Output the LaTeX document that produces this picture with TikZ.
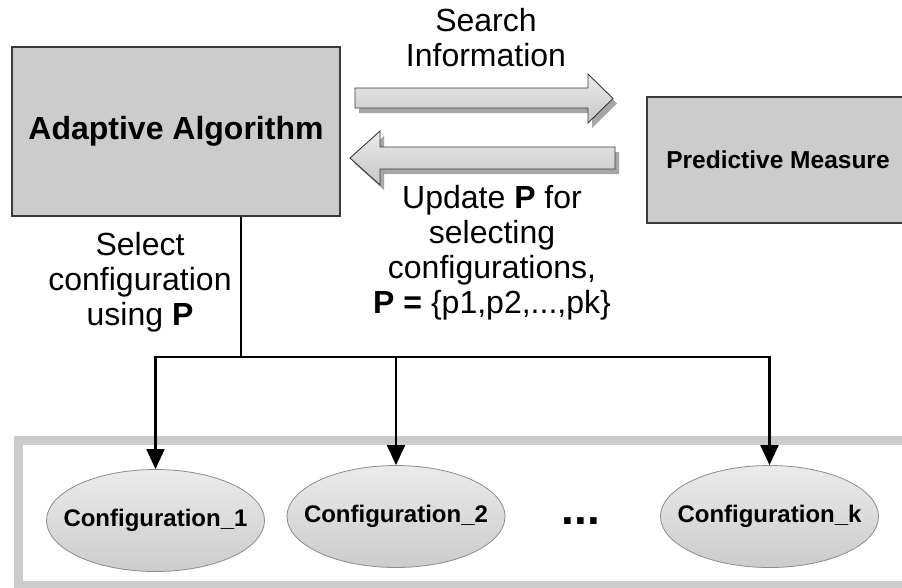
\documentclass[tikz,border=0pt]{standalone}
\usepackage{fontspec}
\setmainfont{Liberation Sans}
\usetikzlibrary{arrows.meta,shapes.geometric}

\definecolor{boxgray}{HTML}{CCCCCC}
\definecolor{boxline}{HTML}{3A3A3A}
\definecolor{framegray}{HTML}{CCCCCC}
\definecolor{shadowgray}{HTML}{A6A6A6}
\definecolor{ellline}{HTML}{8C8C8C}

\newcommand{\ctext}[1]{\makebox[0pt][c]{#1}}

\tikzset{
  block/.style={draw=boxline, line width=1.4pt, fill=boxgray, inner sep=0pt},
  config/.style={ellipse, draw=ellline, line width=0.8pt,
    top color=black!8, bottom color=black!20,
    minimum width=218pt, minimum height=102pt, inner sep=0pt,
    font=\fontsize{24}{28}\selectfont\bfseries},
  label/.style={align=center, anchor=base, inner sep=0pt,
    font=\fontsize{32}{35}\selectfont},
  bigarrow/.style={draw=boxline, line width=0.9pt,
    top color=black!8, bottom color=black!22},
  arrowshadow/.style={fill=shadowgray, draw=none},
  feed/.style={line width=2.1pt, draw=black},
  feedarrow/.style={feed, -{Triangle[length=20pt,width=18pt]}},
}

\begin{document}
\begin{tikzpicture}[x=1pt,y=-1pt]
  \useasboundingbox (0,0) rectangle (902,587);
  \fill[white] (0,0) rectangle (902,587);

  % outer frame holding the configurations
  \draw[framegray, line width=9pt] (18,440) rectangle (912,585);

  % main blocks
  \node[block, minimum width=328pt, minimum height=169pt,
        font=\fontsize{32}{36}\selectfont\bfseries] (alg) at (176,131.5) {Adaptive Algorithm};
  \node[block, minimum width=262pt, minimum height=126pt,
        font=\fontsize{24.5}{28}\selectfont\bfseries] (pm) at (778,160) {Predictive Measure};

  % block arrows between the two blocks, with drop shadows
  \begin{scope}[shift={(4,5)}]
    \fill[arrowshadow] (355,88) -- (588,88) -- (588,74) -- (613,98.5)
      -- (588,123) -- (588,108) -- (355,108) -- cycle;
    \fill[arrowshadow] (615,147) -- (380,147) -- (380,131) -- (350,158)
      -- (380,185) -- (380,169) -- (615,169) -- cycle;
  \end{scope}
  \path[bigarrow] (355,88) -- (588,88) -- (588,74) -- (613,98.5)
    -- (588,123) -- (588,108) -- (355,108) -- cycle;
  \path[bigarrow] (615,147) -- (380,147) -- (380,131) -- (350,158)
    -- (380,185) -- (380,169) -- (615,169) -- cycle;

  % arrow labels (anchored on the baseline of their last line)
  \node[label] (search) at (486,66) {Search\\Information};
  \node[label] (update) at (492,313)
    {Update \textbf{P} for\\selecting\\configurations,\\\textbf{P =} \{p1,p2,...,pk\}};
  \node[label] (select) at (140,325) {Select\\configuration\\using \textbf{P}};

  % configurations
  \node[config] (c1) at (155.5,520.5) {\ctext{Configuration\_1}};
  \node[config] (c2) at (396,516.5) {\ctext{Configuration\_2}};
  \node[config] (ck) at (769.5,516.5) {\ctext{Configuration\_k}};
  \node[font=\fontsize{46}{46}\selectfont\bfseries, inner sep=0pt] (dots) at (581,521) {...};

  % distribution bus from the algorithm to every configuration
  \coordinate (bus) at (241,357);
  \draw[feed] (bus |- alg.south) -- (bus);
  \draw[feedarrow] (bus) -| (c1.north);
  \draw[feedarrow] (bus) -| (ck.north);
  \draw[feedarrow] (c2.north |- bus) -- (c2.north);
\end{tikzpicture}
\end{document}
